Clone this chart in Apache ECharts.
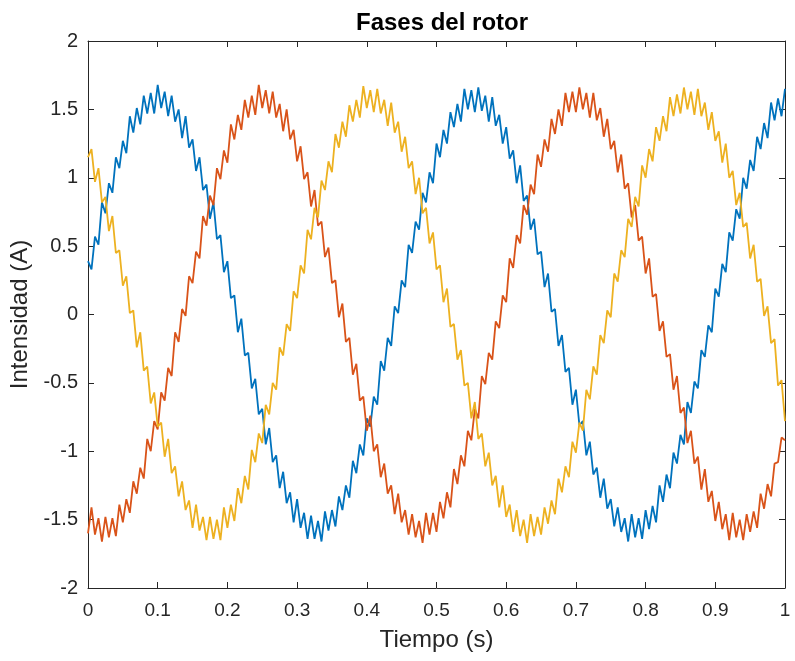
<!DOCTYPE html>
<html>
<head>
<meta charset="utf-8">
<script src="https://cdn.jsdelivr.net/npm/echarts@6/dist/echarts.min.js"></script>
<style>
  html, body { margin: 0; padding: 0; background: #fff; }
  #chart { width: 795px; height: 661px; }
</style>
</head>
<body>
<div id="chart"></div>
<script>
// Tiempo (s), sampled every 0.005 s
const tiempo = [
  0,0.005,0.01,0.015,0.02,0.025,0.03,0.035,0.04,0.045,0.05,0.055,0.06,0.065,0.07,0.075,0.08,0.085,0.09,0.095,
  0.1,0.105,0.11,0.115,0.12,0.125,0.13,0.135,0.14,0.145,0.15,0.155,0.16,0.165,0.17,0.175,0.18,0.185,0.19,0.195,
  0.2,0.205,0.21,0.215,0.22,0.225,0.23,0.235,0.24,0.245,0.25,0.255,0.26,0.265,0.27,0.275,0.28,0.285,0.29,0.295,
  0.3,0.305,0.31,0.315,0.32,0.325,0.33,0.335,0.34,0.345,0.35,0.355,0.36,0.365,0.37,0.375,0.38,0.385,0.39,0.395,
  0.4,0.405,0.41,0.415,0.42,0.425,0.43,0.435,0.44,0.445,0.45,0.455,0.46,0.465,0.47,0.475,0.48,0.485,0.49,0.495,
  0.5,0.505,0.51,0.515,0.52,0.525,0.53,0.535,0.54,0.545,0.55,0.555,0.56,0.565,0.57,0.575,0.58,0.585,0.59,0.595,
  0.6,0.605,0.61,0.615,0.62,0.625,0.63,0.635,0.64,0.645,0.65,0.655,0.66,0.665,0.67,0.675,0.68,0.685,0.69,0.695,
  0.7,0.705,0.71,0.715,0.72,0.725,0.73,0.735,0.74,0.745,0.75,0.755,0.76,0.765,0.77,0.775,0.78,0.785,0.79,0.795,
  0.8,0.805,0.81,0.815,0.82,0.825,0.83,0.835,0.84,0.845,0.85,0.855,0.86,0.865,0.87,0.875,0.88,0.885,0.89,0.895,
  0.9,0.905,0.91,0.915,0.92,0.925,0.93,0.935,0.94,0.945,0.95,0.955,0.96,0.965,0.97,0.975,0.98,0.985,0.99,0.995,
  1
];

// Fase 1 (azul)
const faseA = [
  0.39,0.33,0.57,0.51,0.82,0.74,0.96,0.89,1.15,1.07,1.27,1.18,1.45,1.33,1.51,1.39,1.60,1.47,1.62,1.47,
  1.68,1.51,1.63,1.45,1.60,1.41,1.50,1.29,1.45,1.22,1.28,1.05,1.15,0.91,0.95,0.70,0.82,0.55,0.58,0.31,
  0.39,0.12,0.14,-0.13,-0.03,-0.30,-0.28,-0.54,-0.47,-0.73,-0.69,-0.95,-0.83,-1.08,-1.03,-1.27,-1.15,-1.38,-1.30,-1.52,
  -1.35,-1.56,-1.45,-1.64,-1.47,-1.64,-1.51,-1.66,-1.44,-1.58,-1.43,-1.55,-1.33,-1.43,-1.25,-1.34,-1.07,-1.16,-0.95,-1.03,
  -0.76,-0.82,-0.60,-0.66,-0.34,-0.41,-0.17,-0.23,0.06,0.01,0.25,0.20,0.51,0.45,0.68,0.62,0.89,0.82,1.04,0.96,
  1.25,1.15,1.35,1.25,1.48,1.37,1.54,1.41,1.65,1.50,1.64,1.48,1.66,1.49,1.60,1.41,1.59,1.38,1.46,1.25,
  1.37,1.14,1.20,0.96,1.09,0.83,0.87,0.62,0.70,0.44,0.46,0.20,0.30,0.02,0.04,-0.23,-0.15,-0.42,-0.39,-0.66,
  -0.55,-0.81,-0.78,-1.03,-0.93,-1.17,-1.12,-1.34,-1.20,-1.42,-1.35,-1.55,-1.41,-1.59,-1.49,-1.66,-1.46,-1.63,-1.49,-1.64,
  -1.43,-1.57,-1.40,-1.52,-1.25,-1.37,-1.17,-1.27,-1.01,-1.09,-0.88,-0.95,-0.64,-0.72,-0.49,-0.54,-0.26,-0.31,-0.08,-0.13,
  0.19,0.13,0.37,0.31,0.60,0.54,0.77,0.70,1.00,0.92,1.13,1.05,1.30,1.21,1.40,1.29,1.55,1.42,1.58,1.45,
  1.65
];

// Fase 2 (rojo)
const faseB = [
  -1.60,-1.41,-1.61,-1.49,-1.66,-1.48,-1.63,-1.49,-1.62,-1.39,-1.52,-1.35,-1.45,-1.22,-1.31,-1.12,-1.20,-0.91,-1.00,-0.78,
  -0.84,-0.57,-0.63,-0.39,-0.45,-0.13,-0.20,0.04,-0.01,0.28,0.23,0.46,0.41,0.72,0.65,0.87,0.80,1.07,0.99,1.20,
  1.11,1.39,1.28,1.46,1.35,1.57,1.44,1.60,1.46,1.68,1.51,1.64,1.47,1.63,1.44,1.54,1.34,1.50,1.28,1.35,
  1.12,1.23,0.99,1.04,0.79,0.91,0.65,0.68,0.42,0.49,0.23,0.25,-0.02,0.08,-0.20,-0.17,-0.44,-0.36,-0.63,-0.60,
  -0.85,-0.74,-1.00,-0.95,-1.19,-1.09,-1.31,-1.25,-1.46,-1.31,-1.52,-1.43,-1.61,-1.46,-1.63,-1.51,-1.67,-1.45,-1.61,-1.45,
  -1.59,-1.37,-1.49,-1.30,-1.41,-1.13,-1.24,-1.03,-1.11,-0.85,-0.92,-0.69,-0.76,-0.45,-0.51,-0.28,-0.33,-0.05,-0.10,0.14,
  0.09,0.41,0.34,0.58,0.52,0.80,0.73,0.95,0.88,1.17,1.08,1.28,1.19,1.43,1.32,1.50,1.38,1.62,1.48,1.63,
  1.48,1.66,1.50,1.62,1.44,1.62,1.42,1.51,1.30,1.43,1.21,1.27,1.04,1.17,0.92,0.96,0.71,0.80,0.54,0.57,
  0.30,0.41,0.13,0.15,-0.12,-0.05,-0.31,-0.29,-0.55,-0.45,-0.72,-0.68,-0.94,-0.85,-1.09,-1.04,-1.28,-1.13,-1.37,-1.29,
  -1.51,-1.37,-1.57,-1.46,-1.65,-1.45,-1.63,-1.50,-1.65,-1.46,-1.59,-1.44,-1.56,-1.31,-1.42,-1.24,-1.33,-1.09,-1.08,-0.90,
  -0.92
];

// Fase 3 (amarillo)
const faseC = [
  1.15,1.21,0.97,1.07,0.82,0.86,0.61,0.72,0.45,0.47,0.21,0.28,0.01,0.03,-0.24,-0.13,-0.41,-0.38,-0.65,-0.57,
  -0.82,-0.79,-1.04,-0.91,-1.16,-1.11,-1.33,-1.22,-1.43,-1.36,-1.56,-1.39,-1.58,-1.48,-1.65,-1.48,-1.64,-1.50,-1.65,-1.41,
  -1.56,-1.39,-1.51,-1.27,-1.38,-1.18,-1.28,-0.99,-1.08,-0.87,-0.94,-0.66,-0.73,-0.50,-0.55,-0.24,-0.30,-0.07,-0.12,0.17,
  0.12,0.36,0.30,0.62,0.55,0.78,0.71,0.98,0.91,1.12,1.04,1.32,1.22,1.41,1.30,1.53,1.41,1.57,1.44,1.67,
  1.51,1.64,1.48,1.65,1.47,1.57,1.38,1.55,1.33,1.41,1.19,1.30,1.07,1.12,0.88,1.00,0.74,0.78,0.52,0.60,
  0.33,0.36,0.09,0.19,-0.09,-0.07,-0.33,-0.26,-0.52,-0.50,-0.76,-0.64,-0.91,-0.87,-1.11,-1.01,-1.25,-1.18,-1.41,-1.25,
  -1.48,-1.39,-1.59,-1.43,-1.62,-1.50,-1.67,-1.46,-1.62,-1.48,-1.61,-1.41,-1.53,-1.36,-1.46,-1.20,-1.30,-1.11,-1.19,-0.93,
  -1.01,-0.79,-0.85,-0.55,-0.62,-0.38,-0.44,-0.15,-0.21,0.03,-0.02,0.30,0.24,0.47,0.42,0.70,0.64,0.86,0.79,1.09,
  1.00,1.21,1.12,1.37,1.27,1.45,1.34,1.59,1.45,1.61,1.47,1.66,1.50,1.63,1.46,1.65,1.45,1.55,1.35,1.48,
  1.27,1.34,1.11,1.25,1.00,1.05,0.80,0.89,0.64,0.67,0.41,0.51,0.24,0.26,-0.01,0.06,-0.21,-0.18,-0.52,-0.48,
  -0.78
];

const textColor = '#262626';
const axisColor = '#262626';
const fontFamily = 'Liberation Sans, Arial, Helvetica, sans-serif';

const pair = (ys) => tiempo.map((t, i) => [t, ys[i]]);

const chart = echarts.init(document.getElementById('chart'), null, { renderer: 'canvas' });

const baseAxis = {
  axisLine: { show: true, onZero: false, lineStyle: { color: axisColor, width: 1 } },
  axisTick: { show: true, inside: true, length: 6, lineStyle: { color: axisColor } },
  splitLine: { show: false }
};

chart.setOption({
  backgroundColor: '#ffffff',
  animation: false,
  title: {
    text: 'Fases del rotor',
    left: 437,
    textAlign: 'center',
    top: 6,
    textStyle: { fontFamily, fontWeight: 'bold', fontSize: 24, color: '#000' }
  },
  grid: { left: 88, right: 10, top: 41, bottom: 73, containLabel: false },
  xAxis: [
    Object.assign({}, baseAxis, {
      type: 'value', min: 0, max: 1, interval: 0.1, position: 'bottom',
      name: 'Tiempo (s)', nameLocation: 'middle', nameGap: 40,
      nameTextStyle: { fontFamily, fontSize: 24, color: textColor },
      axisLabel: { margin: 13, fontFamily, fontSize: 19, color: textColor }
    }),
    Object.assign({}, baseAxis, {
      type: 'value', min: 0, max: 1, interval: 0.1, position: 'top',
      axisLabel: { show: false }
    })
  ],
  yAxis: [
    Object.assign({}, baseAxis, {
      type: 'value', min: -2, max: 2, interval: 0.5, position: 'left',
      name: 'Intensidad (A)', nameLocation: 'middle', nameGap: 56,
      nameTextStyle: { fontFamily, fontSize: 24, color: textColor },
      axisLabel: { margin: 10, fontFamily, fontSize: 20, color: textColor }
    }),
    Object.assign({}, baseAxis, {
      type: 'value', min: -2, max: 2, interval: 0.5, position: 'right',
      axisLabel: { show: false }
    })
  ],
  series: [
    { name: 'Fase A', type: 'line', data: pair(faseA), showSymbol: false, symbol: 'none',
      lineStyle: { color: '#0072BD', width: 1.8 }, itemStyle: { color: '#0072BD' } },
    { name: 'Fase B', type: 'line', data: pair(faseB), showSymbol: false, symbol: 'none',
      lineStyle: { color: '#D95319', width: 1.8 }, itemStyle: { color: '#D95319' } },
    { name: 'Fase C', type: 'line', data: pair(faseC), showSymbol: false, symbol: 'none',
      lineStyle: { color: '#EDB120', width: 1.8 }, itemStyle: { color: '#EDB120' } }
  ]
});
</script>
</body>
</html>
